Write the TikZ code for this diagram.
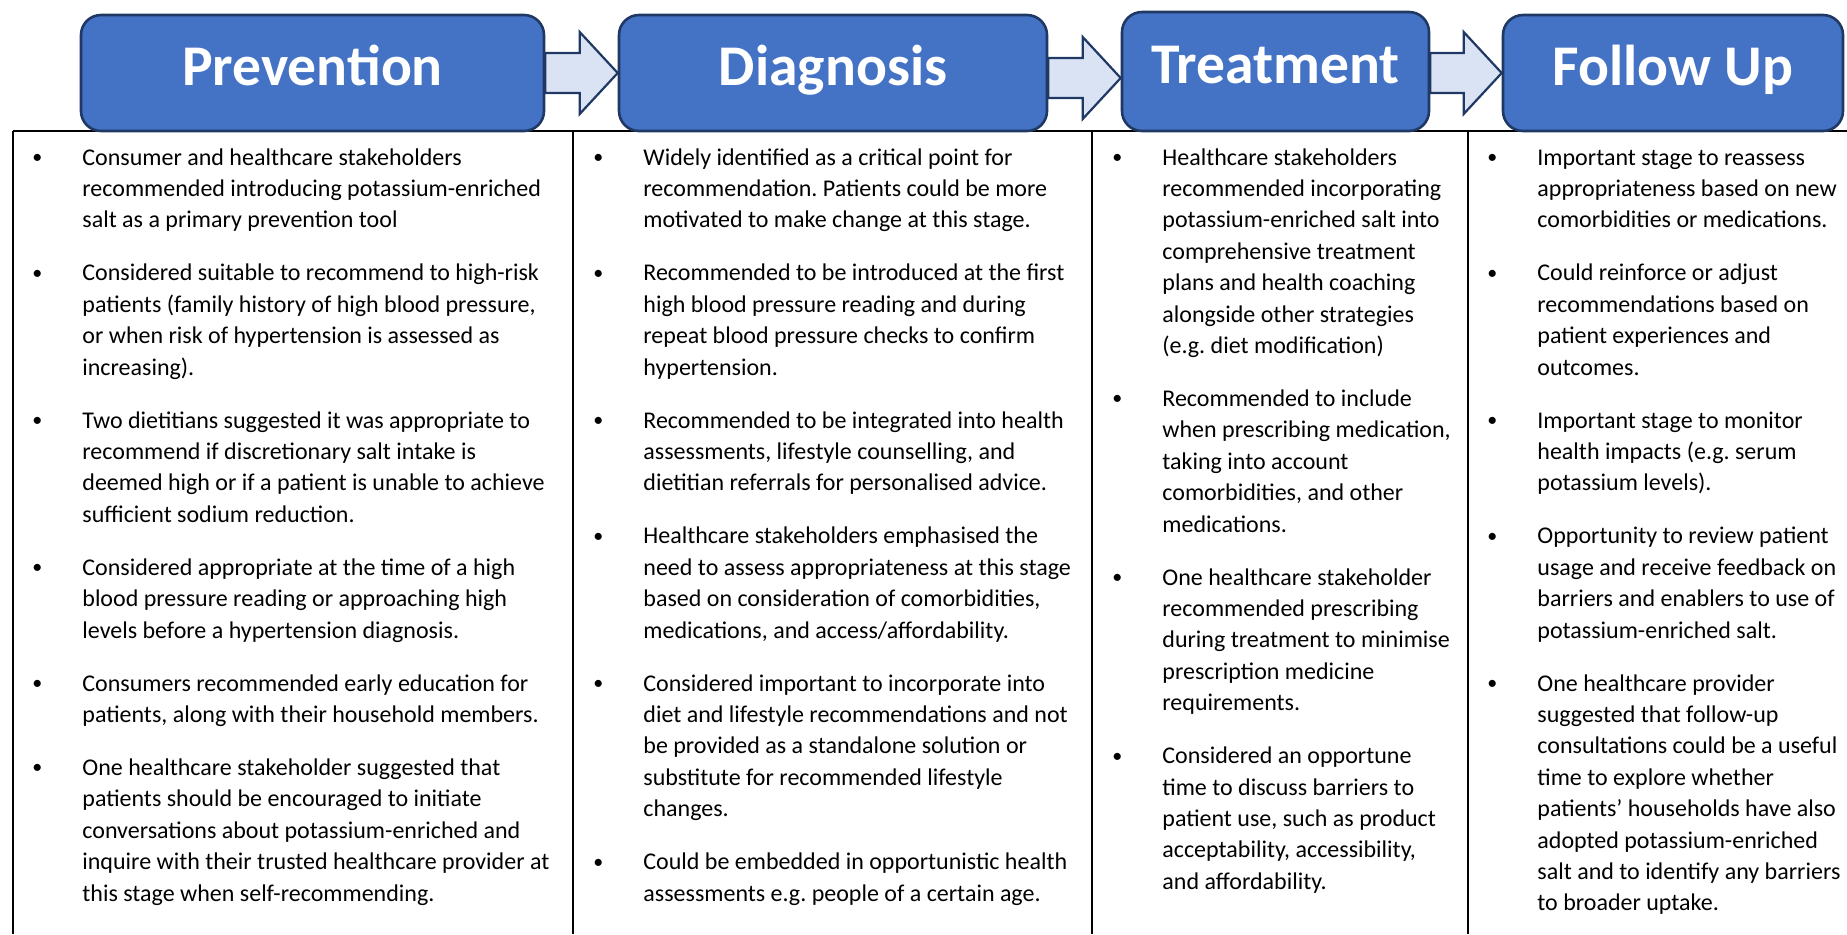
\documentclass[tikz,border=0pt]{standalone}
\usepackage{fontspec}
\setmainfont{Carlito}
\usetikzlibrary{calc}
\frenchspacing

\definecolor{stageblue}{HTML}{4472C4}
\definecolor{stageedge}{HTML}{1F3864}
\definecolor{arrowfill}{HTML}{DAE3F3}

% bullet hung 22.5pt left of the text column
\newcommand{\stagebullet}{\llap{\makebox[0pt]{\raisebox{0.8pt}{\fontsize{10pt}{10pt}\selectfont\textbullet}}\hspace{22.5pt}}}

\begin{document}
\begin{tikzpicture}[x=0.5pt, y=-0.5pt,
    stage/.style={draw=stageedge, line width=1.3pt, fill=stageblue, rounded corners=10pt,
      inner sep=0pt, minimum height=58pt, text=white, text height=22pt, text depth=10pt,
      font=\bfseries\fontsize{28.8pt}{34pt}\selectfont},
    flowarrow/.style={draw=stageedge, line width=1.1pt, fill=arrowfill, line join=miter},
    rule/.style={line width=0.9pt, black},
    notes/.style={anchor=base west, inner sep=0pt, font=\fontsize{12pt}{15.7pt}\selectfont}]
    \useasboundingbox (0,0) rectangle (1847,934);

    % table frame
    \draw[rule] (13,131) -- (1847,131);
    \draw[rule] (13,131) -- (13,934);
    \foreach \x in {573,1092,1468}
      \draw[rule] (\x,131) -- (\x,934);

    % stage headers
    \node[stage, minimum width=231.5pt] (prevention) at (312.5,73) {Prevention};
    \node[stage, minimum width=214pt] (diagnosis) at (833,73) {Diagnosis};
    \node[stage, minimum width=153.5pt, minimum height=59.5pt] (treatment) at (1275.5,71.5) {Treatment};
    \node[stage, minimum width=170pt] (followup) at (1673,73) {Follow Up};

    % block arrows between stages
    \draw[flowarrow] let \p1=(prevention.east), \p2=(diagnosis.west) in
      (\x1,\y2+10pt) -- (\x2-19pt,\y2+10pt) -- (\x2-19pt,\y2+20.5pt) -- (\p2)
      -- (\x2-19pt,\y2-20.5pt) -- (\x2-19pt,\y2-10pt) -- (\x1,\y2-10pt) -- cycle;
    \draw[flowarrow] let \p1=(diagnosis.east), \p2=([yshift=-3.25pt]treatment.west) in
      (\x1,\y2+10pt) -- (\x2-19pt,\y2+10pt) -- (\x2-19pt,\y2+20.5pt) -- (\p2)
      -- (\x2-19pt,\y2-20.5pt) -- (\x2-19pt,\y2-10pt) -- (\x1,\y2-10pt) -- cycle;
    \draw[flowarrow] let \p1=(treatment.east), \p2=(followup.west) in
      (\x1,\y2+10pt) -- (\x2-19pt,\y2+10pt) -- (\x2-19pt,\y2+20.5pt) -- (\p2)
      -- (\x2-19pt,\y2-20.5pt) -- (\x2-19pt,\y2-10pt) -- (\x1,\y2-10pt) -- cycle;

    % column texts
    \node[notes] (preventionnotes) at (82,165) {\begin{tabular}[t]{@{}l@{}}
      \stagebullet Consumer and healthcare stakeholders\\
      recommended introducing potassium-enriched\\
      salt as a primary prevention tool\\[10.8pt]
      \stagebullet Considered suitable to recommend to high-risk\\
      patients (family history of high blood pressure,\\
      or when risk of hypertension is assessed as\\
      increasing).\\[10.8pt]
      \stagebullet Two dietitians suggested it was appropriate to\\
      recommend if discretionary salt intake is\\
      deemed high or if a patient is unable to achieve\\
      sufficient sodium reduction.\\[10.8pt]
      \stagebullet Considered appropriate at the time of a high\\
      blood pressure reading or approaching high\\
      levels before a hypertension diagnosis.\\[10.8pt]
      \stagebullet Consumers recommended early education for\\
      patients, along with their household members.\\[10.8pt]
      \stagebullet One healthcare stakeholder suggested that\\
      patients should be encouraged to initiate\\
      conversations about potassium-enriched and\\
      inquire with their trusted healthcare provider at\\
      this stage when self-recommending.
    \end{tabular}};

    \node[notes] (diagnosisnotes) at (643,165) {\begin{tabular}[t]{@{}l@{}}
      \stagebullet Widely identified as a critical point for\\
      recommendation. Patients could be more\\
      motivated to make change at this stage.\\[10.8pt]
      \stagebullet Recommended to be introduced at the first\\
      high blood pressure reading and during\\
      repeat blood pressure checks to confirm\\
      hypertension.\\[10.8pt]
      \stagebullet Recommended to be integrated into health\\
      assessments, lifestyle counselling, and\\
      dietitian referrals for personalised advice.\\[10.8pt]
      \stagebullet Healthcare stakeholders emphasised the\\
      need to assess appropriateness at this stage\\
      based on consideration of comorbidities,\\
      medications, and access/affordability.\\[10.8pt]
      \stagebullet Considered important to incorporate into\\
      diet and lifestyle recommendations and not\\
      be provided as a standalone solution or\\
      substitute for recommended lifestyle\\
      changes.\\[10.8pt]
      \stagebullet Could be embedded in opportunistic health\\
      assessments e.g. people of a certain age.
    \end{tabular}};

    \node[notes] (treatmentnotes) at (1162,165) {\begin{tabular}[t]{@{}l@{}}
      \stagebullet Healthcare stakeholders\\
      recommended incorporating\\
      potassium-enriched salt into\\
      comprehensive treatment\\
      plans and health coaching\\
      alongside other strategies\\
      (e.g. diet modification)\\[10.8pt]
      \stagebullet Recommended to include\\
      when prescribing medication,\\
      taking into account\\
      comorbidities, and other\\
      medications.\\[10.8pt]
      \stagebullet One healthcare stakeholder\\
      recommended prescribing\\
      during treatment to minimise\\
      prescription medicine\\
      requirements.\\[10.8pt]
      \stagebullet Considered an opportune\\
      time to discuss barriers to\\
      patient use, such as product\\
      acceptability, accessibility,\\
      and affordability.
    \end{tabular}};

    \node[notes] (followupnotes) at (1537,165) {\begin{tabular}[t]{@{}l@{}}
      \stagebullet Important stage to reassess\\
      appropriateness based on new\\
      comorbidities or medications.\\[10.8pt]
      \stagebullet Could reinforce or adjust\\
      recommendations based on\\
      patient experiences and\\
      outcomes.\\[10.8pt]
      \stagebullet Important stage to monitor\\
      health impacts (e.g. serum\\
      potassium levels).\\[10.8pt]
      \stagebullet Opportunity to review patient\\
      usage and receive feedback on\\
      barriers and enablers to use of\\
      potassium-enriched salt.\\[10.8pt]
      \stagebullet One healthcare provider\\
      suggested that follow-up\\
      consultations could be a useful\\
      time to explore whether\\
      patients’ households have also\\
      adopted potassium-enriched\\
      salt and to identify any barriers\\
      to broader uptake.
    \end{tabular}};
  \end{tikzpicture}
\end{document}
